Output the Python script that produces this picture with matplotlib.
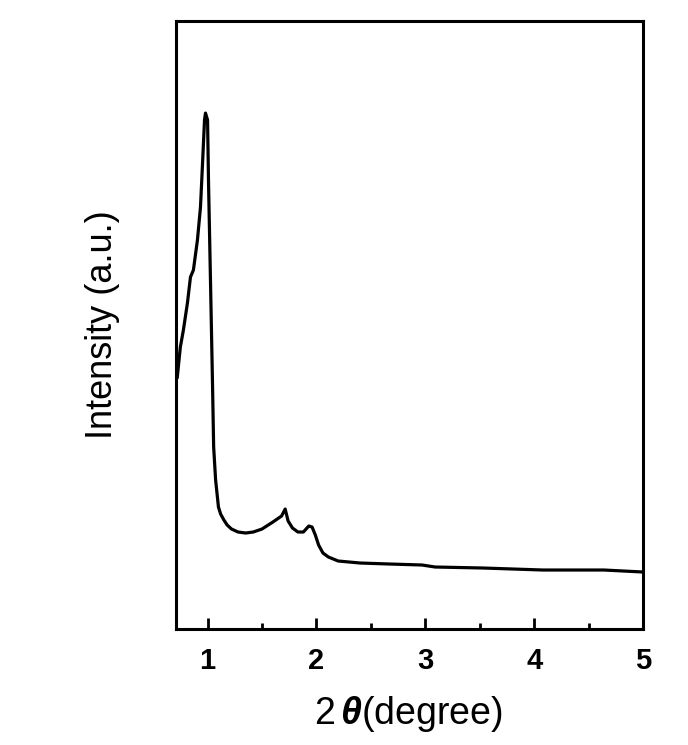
import numpy as np
import matplotlib
matplotlib.use("Agg")
import matplotlib.pyplot as plt
from matplotlib.ticker import MultipleLocator

# XRD pattern (2theta in degree, intensity in a.u.)
two_theta = [0.722, 0.75, 0.778, 0.815, 0.843, 0.870, 0.907, 0.935, 0.954,
             0.972, 0.981, 1.0, 1.009, 1.028, 1.046, 1.056, 1.074, 1.10,
             1.12, 1.15, 1.18, 1.22, 1.28, 1.35, 1.42, 1.50, 1.60, 1.68,
             1.713, 1.74, 1.78, 1.83, 1.88, 1.93, 1.96, 1.99, 2.02, 2.06,
             2.11, 2.20, 2.40, 2.67, 2.97, 3.09, 3.53, 4.08, 4.64, 5.0]
intensity = [252, 282, 299, 326, 352, 359, 389, 422, 466,
             509, 516, 509, 446, 342, 242, 182, 149, 122,
             115, 109, 104, 100, 97, 96, 97, 100, 107, 113,
             120, 108, 101, 97, 97, 103, 102, 94, 84, 76,
             72, 68, 66, 65, 64, 62, 61, 59, 59, 57]

x_ticks = [1, 2, 3, 4, 5]

plt.rcParams['font.family'] = ['Liberation Sans', 'DejaVu Sans']
plt.rcParams['mathtext.fontset'] = 'custom'
plt.rcParams['mathtext.it'] = 'Liberation Sans:italic:bold'
plt.rcParams['mathtext.rm'] = 'Liberation Sans'

fig = plt.figure(figsize=(6.88, 7.45), dpi=100)
ax = fig.add_axes([0.2558, 0.1557, 0.6788, 0.816])

ax.plot(two_theta, intensity, color='black', lw=2.3)

ax.set_xlim(0.71, 5.0)
ax.set_ylim(0, 608)
ax.set_xticks(x_ticks)
ax.xaxis.set_minor_locator(MultipleLocator(0.5))
ax.set_yticks([])

for s in ax.spines.values():
    s.set_linewidth(2.2)

ax.tick_params(axis='x', which='major', direction='in', length=8, width=2,
               labelsize=21, pad=13)
ax.tick_params(axis='x', which='minor', direction='in', length=4, width=2)
for lbl in ax.get_xticklabels():
    lbl.set_fontweight('bold')

ax.set_xlabel(r'2$\,\theta$(degree)', fontsize=27)
ax.set_ylabel('Intensity (a.u.)', fontsize=26)
ax.xaxis.set_label_coords(0.498, -0.107)
ax.yaxis.set_label_coords(-0.12, 0.5)

fig.savefig('out.png', dpi=100)
